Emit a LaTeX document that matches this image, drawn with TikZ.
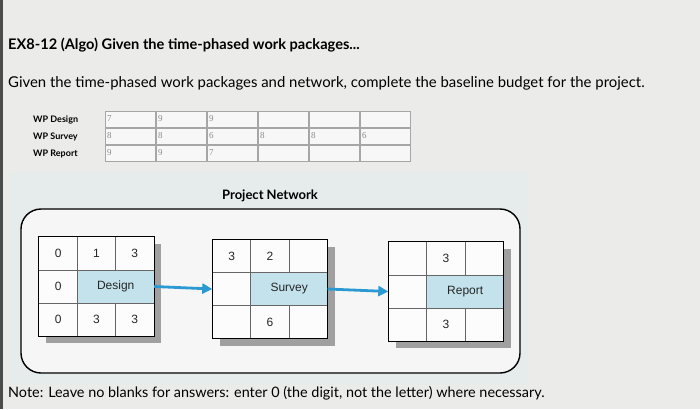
\documentclass[tikz,border=0pt]{standalone}
\usepackage{fontspec}
\setmainfont{Lato}
\newfontfamily\boxfont{Liberation Sans}
\newfontfamily\cellfont{Liberation Serif}
\usetikzlibrary{arrows.meta, positioning}

\definecolor{screen}{HTML}{EBEBEA}
\definecolor{panel}{HTML}{E6EBEB}
\definecolor{actblue}{HTML}{C3E2EB}
\definecolor{flowblue}{HTML}{2C9AD2}
\definecolor{shade}{HTML}{A0A0A0}
\definecolor{entry}{HTML}{8A8A8A}

\begin{document}
\begin{tikzpicture}[
                x=1pt, y=-1pt,
                every node/.style={inner sep=0pt},
                wplabel/.style={font=\fontsize{9}{10}\selectfont\bfseries, anchor=west},
                wpcell/.style={draw=gray!70, fill=white!60!screen, minimum width=50pt, minimum height=16pt},
                wpval/.style={font=\cellfont\fontsize{9}{10}\selectfont, text=entry, anchor=west},
                actshadow/.style={fill=shade, minimum width=115pt, minimum height=99pt},
                actframe/.style={fill=white!85!screen, minimum width=115pt, minimum height=99pt},
                acttext/.style={font=\boxfont\fontsize{12}{13}\selectfont, text=black!85},
                flow/.style={-{Triangle[length=10pt,width=10pt]}, draw=flowblue, line width=2.8pt},
                >=Stealth
            ]
            \useasboundingbox (0,0) rectangle (700,409);
            \fill[screen] (0,0) rectangle (700,409);
            \fill[gray!60!black] (0,0) rectangle (3,409);
            \fill[panel] (10,172) rectangle (528,385);

            % heading
            \node[anchor=base west, font=\fontsize{14.6}{16}\selectfont\bfseries] (title) at (8,50)
                {EX8-12 (Algo) Given the time-phased work packages...};
            \node[anchor=base west, font=\fontsize{14.9}{16}\selectfont] (intro) at (8,88)
                {Given the time-phased work packages and network, complete the baseline budget for the project.};

            % time-phased work packages
            \node[wplabel] (wpd) at (33,120) {WP Design};
            \node[wplabel] (wps) at (33,137) {WP Survey};
            \node[wplabel] (wpr) at (33,154) {WP Report};
            \foreach \r/\y in {1/119, 2/136, 3/153}
                \foreach \c in {1,...,6}
                    \node[wpcell] (c\r\c) at (130+51*\c-51,\y) {};
            \foreach \c/\v in {1/7, 2/9, 3/9}
                \node[wpval] at ([xshift=2pt]c1\c.west) {\v};
            \foreach \c/\v in {1/8, 2/8, 3/6, 4/8, 5/8, 6/6}
                \node[wpval] at ([xshift=2pt]c2\c.west) {\v};
            \foreach \c/\v in {1/9, 2/9, 3/7}
                \node[wpval] at ([xshift=2pt]c3\c.west) {\v};

            % project network
            \node[font=\fontsize{13}{15}\selectfont\bfseries] (net) at (270,196) {Project Network};
            \draw[line width=1.4pt, rounded corners=20pt, fill=white!55!screen] (21,209) rectangle (520,373);

            % activities
            \foreach \n/\x/\y in {design/96.5/286.5, survey/270/289, report/446/291.5} {
                \node[actshadow] (\n-sh) at (\x+7,\y+7) {};
                \node[actframe] (\n) at (\x,\y) {};
                \fill[actblue] ([xshift=-19.17pt,yshift=16.5pt]\n.center) rectangle ([yshift=-16.5pt]\n.east);
                \draw[gray!80!black, line width=0.8pt]
                    ([xshift=-19.17pt]\n.north) -- ([xshift=-19.17pt]\n.south)
                    ([xshift=19.17pt]\n.north) -- ([xshift=19.17pt,yshift=16.5pt]\n.center)
                    ([xshift=19.17pt,yshift=-16.5pt]\n.center) -- ([xshift=19.17pt]\n.south)
                    ([yshift=16.5pt]\n.west) -- ([yshift=16.5pt]\n.east)
                    ([yshift=-16.5pt]\n.west) -- ([yshift=-16.5pt]\n.east);
                \draw[line width=1.3pt] (\n.north west) rectangle (\n.south east);
            }

            \node[acttext] (d-es) at ([xshift=-38.3pt,yshift=33pt]design) {0};
            \node[acttext] (d-dur) at ([yshift=33pt]design) {1};
            \node[acttext] (d-ef) at ([xshift=38.3pt,yshift=33pt]design) {3};
            \node[acttext] (d-sl) at ([xshift=-38.3pt]design) {0};
            \node[acttext] (d-name) at ([xshift=19.2pt]design) {Design};
            \node[acttext] (d-ls) at ([xshift=-38.3pt,yshift=-33pt]design) {0};
            \node[acttext] (d-tf) at ([yshift=-33pt]design) {3};
            \node[acttext] (d-lf) at ([xshift=38.3pt,yshift=-33pt]design) {3};

            \node[acttext] (s-es) at ([xshift=-38.3pt,yshift=33pt]survey) {3};
            \node[acttext] (s-dur) at ([yshift=33pt]survey) {2};
            \node[acttext] (s-name) at ([xshift=19.2pt]survey) {Survey};
            \node[acttext] (s-tf) at ([yshift=-33pt]survey) {6};

            \node[acttext] (r-dur) at ([yshift=33pt]report) {3};
            \node[acttext] (r-name) at ([xshift=19.2pt]report) {Report};
            \node[acttext] (r-tf) at ([yshift=-33pt]report) {3};

            \draw[flow] (design.east) -- (survey.west);
            \draw[flow] (survey.east) -- (report.west);

            % note
            \node[anchor=base west, font=\fontsize{14.4}{16}\selectfont] (note) at (8,397)
                {Note: Leave no blanks for answers: enter 0 (the digit, not the letter) where necessary.};
        \end{tikzpicture}
\end{document}
